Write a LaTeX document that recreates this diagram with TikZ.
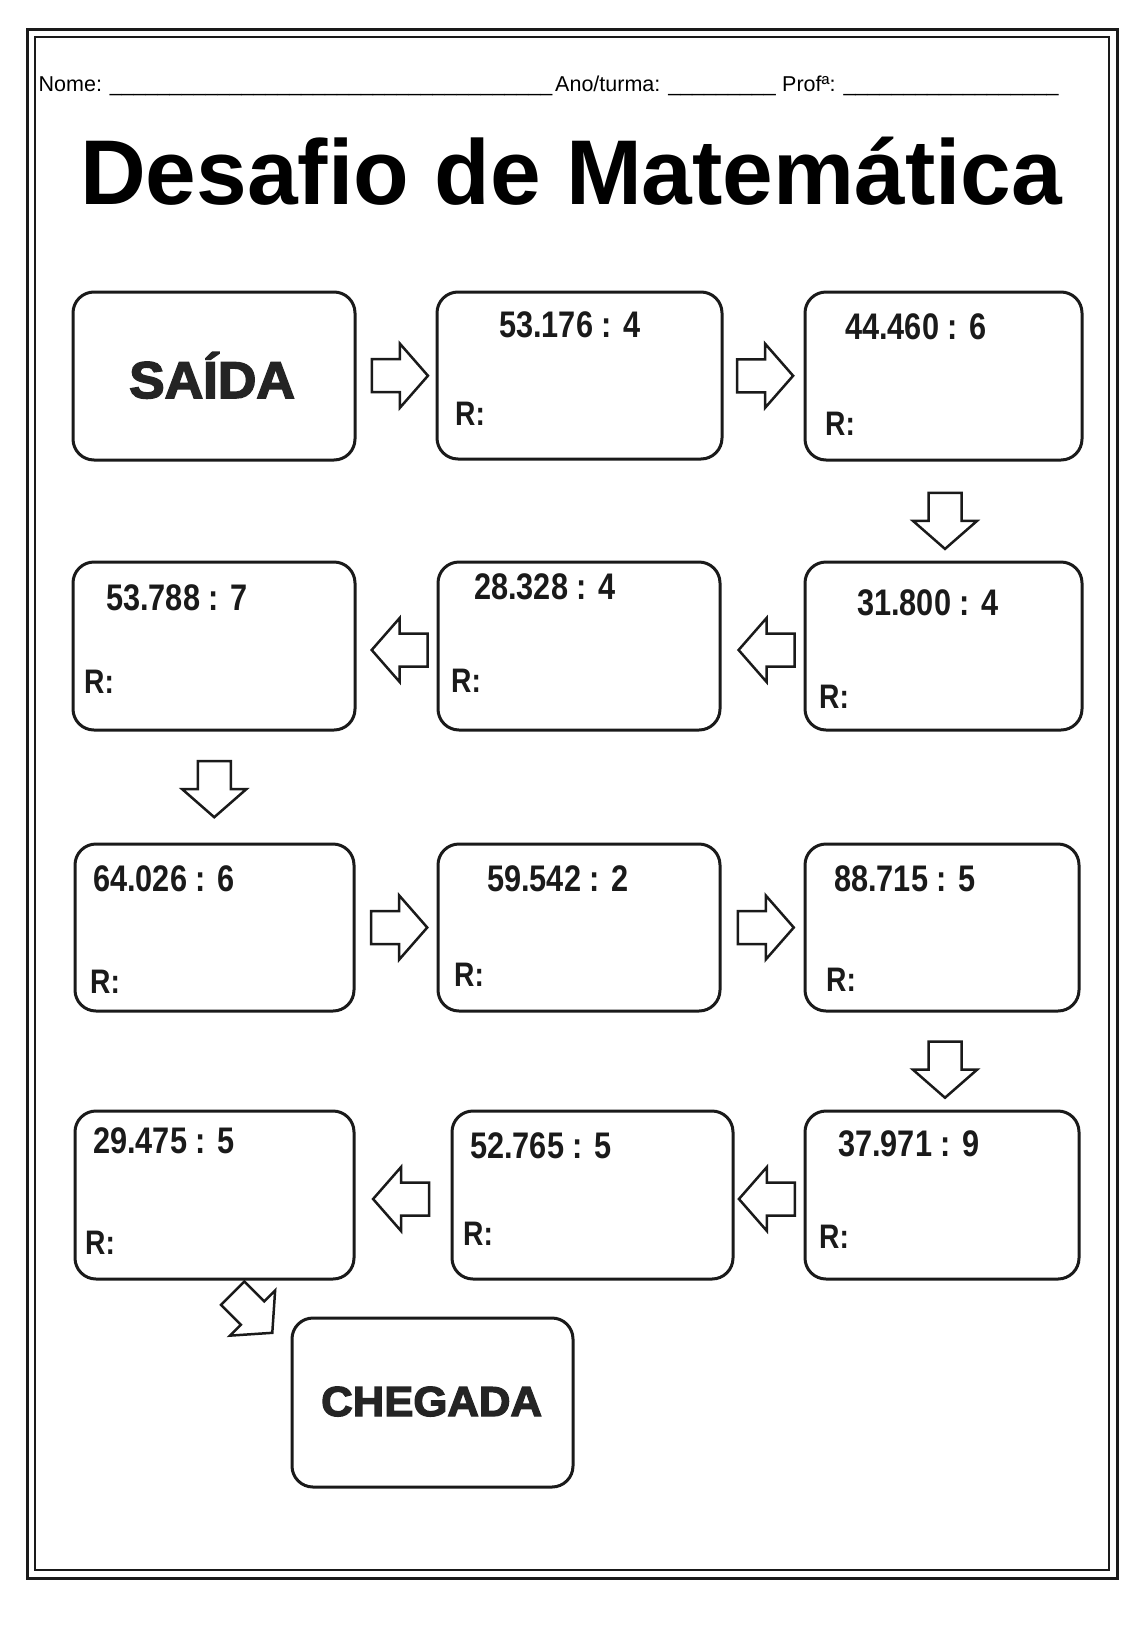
\documentclass[tikz,border=0pt]{standalone}
\usepackage{fontspec}
\setmainfont{Liberation Sans}
\newfontfamily\heavysans{Liberation Sans Bold}[FakeBold=3]
\usetikzlibrary{calc}
\newcommand\condtxt[1]{\scalebox{0.83}[1]{#1}}
\definecolor{ink}{HTML}{1A1A1A}
\definecolor{heavy}{HTML}{242424}
\begin{document}
\begin{tikzpicture}[x=1pt,y=-1pt,
  box/.style={draw=ink, line width=3pt, rounded corners=21pt, inner sep=0pt},
  arrowline/.style={draw=ink, line width=2.5pt, fill=white, line join=miter},
  barrow/.pic={\path[arrowline] (-28,-16.5) -- (0,-16.5) -- (0,-32) -- (28,0) -- (0,32) -- (0,16.5) -- (-28,16.5) -- cycle;},
  num/.style={anchor=base west, inner sep=0pt, text=ink,
    font=\bfseries\fontsize{37}{40}\selectfont},
  rlab/.style={anchor=base west, inner sep=0pt, text=ink,
    font=\bfseries\fontsize{34}{38}\selectfont},
  endlab/.style={anchor=base west, inner sep=0pt, text=heavy},
  head/.style={anchor=base west, inner sep=0pt, font=\fontsize{21.5}{24}\selectfont}
]
\useasboundingbox (0,0) rectangle (1134,1625);
\fill[white] (0,0) rectangle (1134,1625);
% page borders
\draw[line width=3pt, draw=ink] (27,29) rectangle (1117,1578);
\draw[line width=2pt, draw=ink] (35,37) rectangle (1109,1570);

% header
\node[head] (nome) at (38.5,91) {Nome: \_\_\_\_\_\_\_\_\_\_\_\_\_\_\_\_\_\_\_\_\_\_\_\_\_\_\_\_\_\_\_\_\_\_\_\_\_};
\node[head] (ano) at (555,91) {Ano/turma: \_\_\_\_\_\_\_\_\_};
\node[head] (prof) at (782,91) {Profª: \_\_\_\_\_\_\_\_\_\_\_\_\_\_\_\_\_\_};
\node[anchor=base west, inner sep=0pt, font=\bfseries\fontsize{92}{96}\selectfont] (title) at (80,204) {\scalebox{0.99}[1]{Desafio de Matemática}};

% boxes
\node[box, minimum width=282pt, minimum height=168pt] (b1) at (214,376) {};
\node[box, minimum width=285pt, minimum height=167pt] (b2) at (579.5,375.5) {};
\node[box, minimum width=277pt, minimum height=168pt] (b3) at (943.5,376) {};
\node[box, minimum width=277pt, minimum height=168pt] (b4) at (943.5,646) {};
\node[box, minimum width=282pt, minimum height=168pt] (b5) at (579,646) {};
\node[box, minimum width=282pt, minimum height=168pt] (b6) at (214,646) {};
\node[box, minimum width=279pt, minimum height=167pt] (b7) at (214.5,927.5) {};
\node[box, minimum width=282pt, minimum height=167pt] (b8) at (579,927.5) {};
\node[box, minimum width=274pt, minimum height=167pt] (b9) at (942,927.5) {};
\node[box, minimum width=274pt, minimum height=168pt] (b10) at (942,1195) {};
\node[box, minimum width=281pt, minimum height=168pt] (b11) at (592.5,1195) {};
\node[box, minimum width=279pt, minimum height=168pt] (b12) at (214.5,1195) {};
\node[box, minimum width=281pt, minimum height=169pt] (b13) at (432.5,1402.5) {};

% box texts
\node[endlab] (saida) at (129,398) {\heavysans\fontsize{51.7}{56}\selectfont\scalebox{1.03}[1]{SAÍDA}};
\node[endlab] (chegada) at (321,1416) {\heavysans\fontsize{42}{46}\selectfont\scalebox{1.04}[1]{CHEGADA}};

\node[num] (t2) at (499,337) {\condtxt{53.176 : 4}};
\node[rlab] (r2) at (455,425) {\condtxt{R:}};
\node[num] (t3) at (845,339) {\condtxt{44.460 : 6}};
\node[rlab] (r3) at (825,435) {\condtxt{R:}};
\node[num] (t4) at (857,615) {\condtxt{31.800 : 4}};
\node[rlab] (r4) at (819,708) {\condtxt{R:}};
\node[num] (t5) at (474,599) {\condtxt{28.328 : 4}};
\node[rlab] (r5) at (451,692) {\condtxt{R:}};
\node[num] (t6) at (106,610) {\condtxt{53.788 : 7}};
\node[rlab] (r6) at (84,693) {\condtxt{R:}};
\node[num] (t7) at (93,891) {\condtxt{64.026 : 6}};
\node[rlab] (r7) at (90,993) {\condtxt{R:}};
\node[num] (t8) at (487,891) {\condtxt{59.542 : 2}};
\node[rlab] (r8) at (454,986) {\condtxt{R:}};
\node[num] (t9) at (834,891) {\condtxt{88.715 : 5}};
\node[rlab] (r9) at (826,991) {\condtxt{R:}};
\node[num] (t10) at (838,1156) {\condtxt{37.971 : 9}};
\node[rlab] (r10) at (819,1248) {\condtxt{R:}};
\node[num] (t11) at (470,1158) {\condtxt{52.765 : 5}};
\node[rlab] (r11) at (463,1245) {\condtxt{R:}};
\node[num] (t12) at (93,1153) {\condtxt{29.475 : 5}};
\node[rlab] (r12) at (85,1254) {\condtxt{R:}};

% block arrows between boxes
\pic at ($(b1.east)!0.55!(b2.west)$) {barrow};
\pic at ($(b2.east)!0.52!(b3.west)$) {barrow};
\pic[rotate=-90] at ($(b3.south)!0.6!(b4.north)+(1.5,0)$) {barrow};
\pic[rotate=180] at ($(b4.west)!0.45!(b5.east)+(0,4)$) {barrow};
\pic[rotate=180] at ($(b5.west)!0.46!(b6.east)+(0,4)$) {barrow};
\pic[rotate=-90] at ($(b6.south)!0.52!(b7.north)$) {barrow};
\pic at ($(b7.east)!0.54!(b8.west)$) {barrow};
\pic at ($(b8.east)!0.54!(b9.west)$) {barrow};
\pic[rotate=-90] at ($(b9.south)!0.59!(b10.north)+(3,0)$) {barrow};
\pic[rotate=180] at ($(b10.west)!0.53!(b11.east)+(0,4)$) {barrow};
\pic[rotate=180] at ($(b11.west)!0.52!(b12.east)+(0,4)$) {barrow};
\pic[rotate=-45] at ($(b12.south)!0.5!(b13.north west)+(0,14.5)$) {barrow};
\end{tikzpicture}
\end{document}
